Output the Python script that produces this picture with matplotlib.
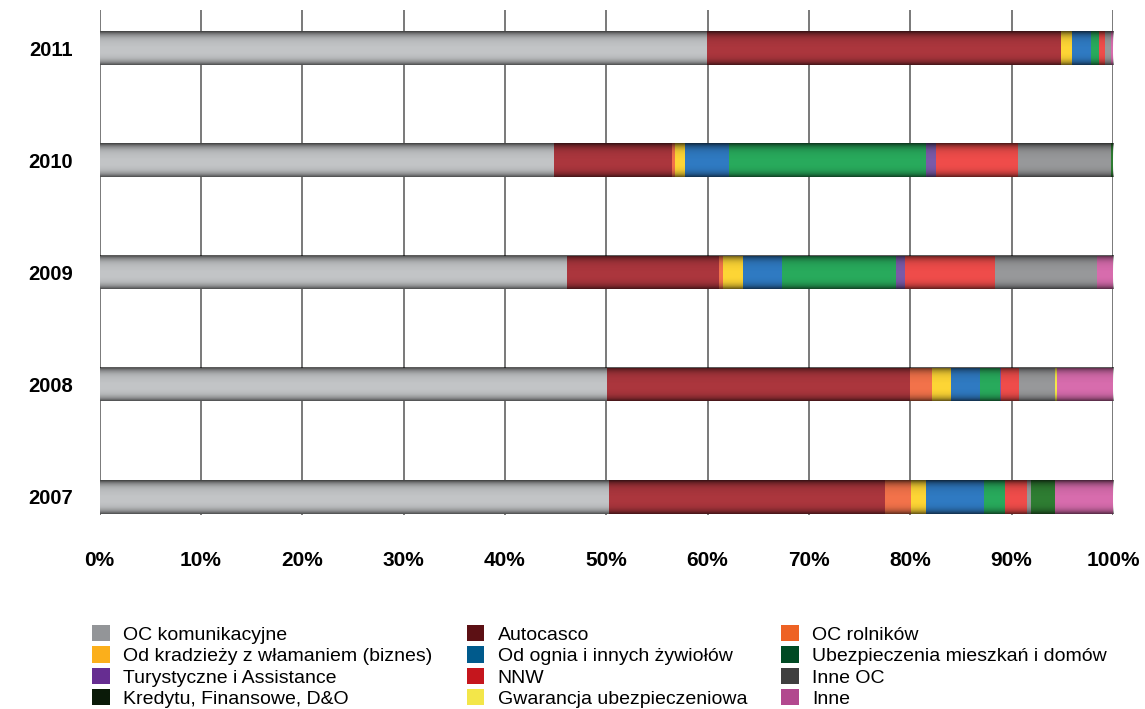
import numpy as np
import matplotlib.pyplot as plt
from matplotlib.patches import Patch

plt.rcParams['font.family'] = ['Liberation Sans', 'DejaVu Sans']

years = ['2007', '2008', '2009', '2010', '2011']
labels = ['OC komunikacyjne', 'Autocasco', 'OC rolników',
          'Od kradzieży z włamaniem (biznes)', 'Od ognia i innych żywiołów',
          'Ubezpieczenia mieszkań i domów', 'Turystyczne i Assistance', 'NNW',
          'Inne OC', 'Kredytu, Finansowe, D&O', 'Gwarancja ubezpieczeniowa', 'Inne']

# shares in %, one list per year (order as in labels)
s2007 = [50.3, 27.2, 2.6, 1.5, 5.7, 2.0, 0.0, 2.2, 0.4, 2.4, 0.0, 5.7]
s2008 = [50.1, 29.9, 2.1, 1.9, 2.9, 2.0, 0.1, 1.7, 3.6, 0.0, 0.2, 5.5]
s2009 = [46.1, 15.0, 0.4, 2.0, 3.8, 11.3, 0.9, 8.9, 10.0, 0.0, 0.0, 1.6]
s2010 = [44.8, 11.7, 0.3, 1.0, 4.3, 19.5, 0.9, 8.1, 9.2, 0.2, 0.0, 0.0]
s2011 = [59.9, 35.0, 0.0, 1.1, 1.8, 0.8, 0.0, 0.6, 0.6, 0.0, 0.0, 0.2]

bar_colors = ['#c2c4c6', '#ab363d', '#f2724a', '#fdd535', '#2f7ac2', '#28aa5c',
              '#7a5aa8', '#ef4c4a', '#97989a', '#2e7d32', '#f5e64a', '#d76cad']
legend_colors = ['#939598', '#5c1014', '#ee6224', '#fbaf1b', '#005a8c', '#004a23',
                 '#662d91', '#c5161d', '#3f3f3f', '#0a1a08', '#f3e649', '#b2488e']

data = np.array([s2007, s2008, s2009, s2010, s2011])
data = data / data.sum(axis=1, keepdims=True) * 100

fig = plt.figure(figsize=(11.45, 7.09), dpi=100)
ax = fig.add_axes([0.087, 0.274, 0.885, 0.712])

y = np.arange(len(years))
h = 0.30
left = np.zeros(len(years))
for i in range(len(labels)):
    ax.barh(y, data[:, i], left=left, height=h, color=bar_colors[i], zorder=3)
    left += data[:, i]

# cylinder-like shading over each bar
t = np.linspace(-1, 1, 60)
shade = np.zeros((60, 1, 4))
shade[:, 0, 3] = np.abs(t) ** 4 * 0.6 + np.clip(-t, 0, 1) * 0.08
for yy in y:
    ax.imshow(shade, extent=[0, 100, yy - h / 2, yy + h / 2], aspect='auto',
              zorder=4, interpolation='bilinear')

ax.set_xlim(0, 100)
ax.set_ylim(-0.16, 4.34)
ax.set_xticks(np.arange(0, 101, 10))
ax.set_xticklabels([f'{v}%' for v in range(0, 101, 10)], fontsize=15, fontweight='bold')
ax.set_yticks(y)
ax.set_yticklabels(years, fontsize=14.5, fontweight='bold')
ax.tick_params(axis='x', length=0, pad=26)
ax.tick_params(axis='y', length=0, pad=19)
ax.grid(axis='x', color='#6e6e6e', linewidth=1.3, zorder=0)
for sp in ax.spines.values():
    sp.set_visible(False)

order = [0, 3, 6, 9, 1, 4, 7, 10, 2, 5, 8, 11]
handles = [Patch(facecolor=legend_colors[i], label=labels[i]) for i in order]
fig.legend(handles=handles, ncol=3, loc='upper left', bbox_to_anchor=(0.072, 0.132),
           frameon=False, fontsize=14, handlelength=0.9, handleheight=0.9,
           handletextpad=0.7, columnspacing=1.75, labelspacing=0.13, borderpad=0)

fig.savefig('out.png', dpi=100)
